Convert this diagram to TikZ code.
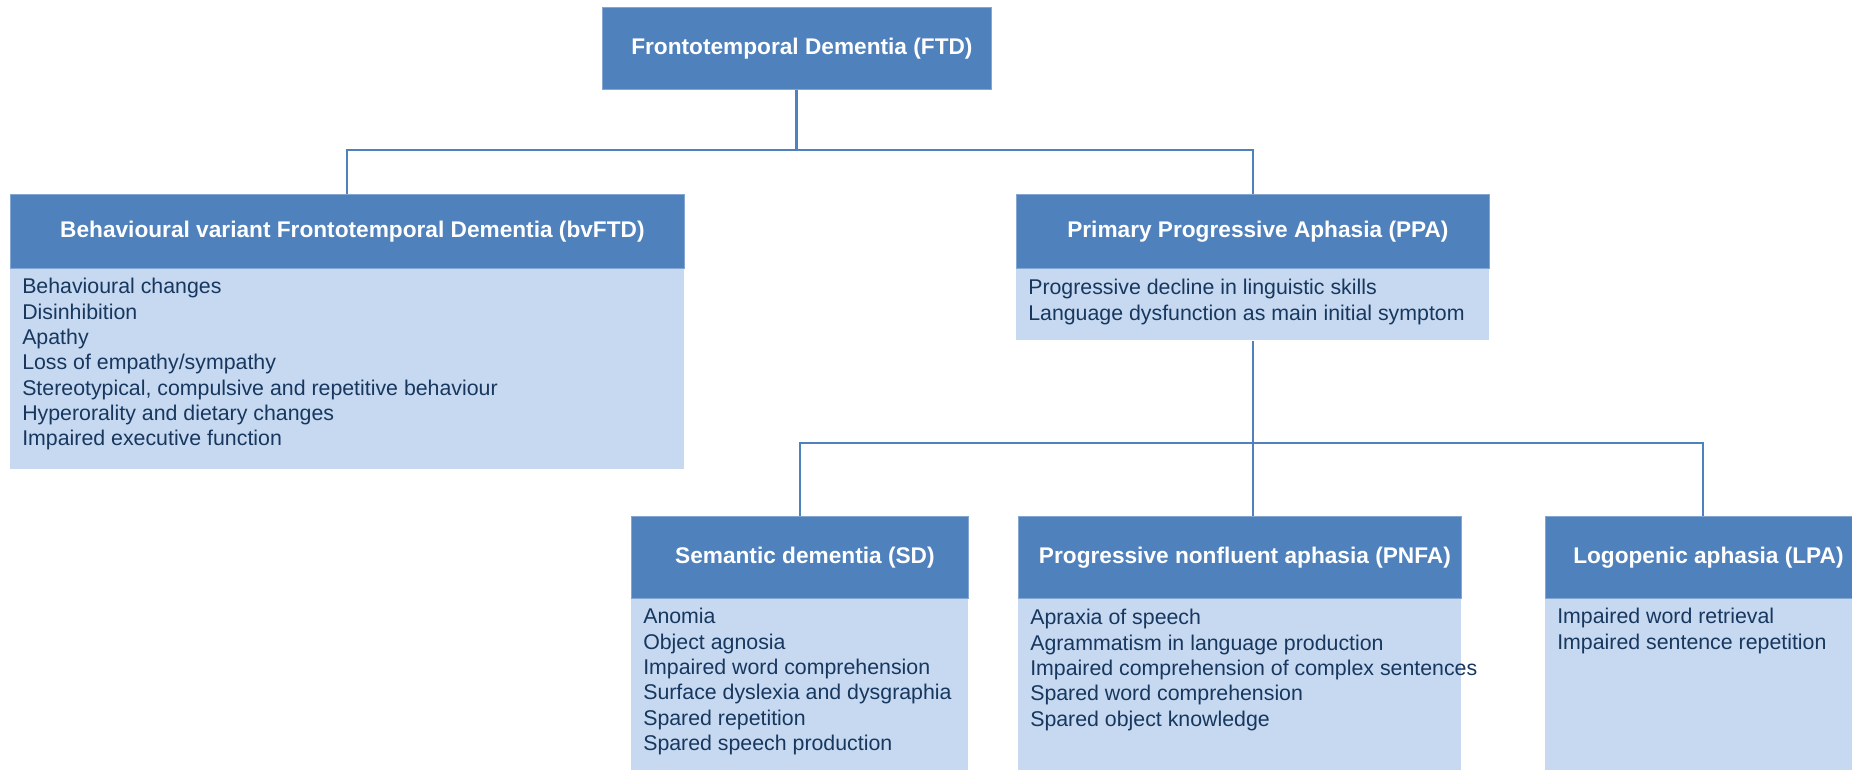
\documentclass[tikz,border=0pt]{standalone}
\usepackage{fontspec}
\setmainfont{Liberation Sans}
\usetikzlibrary{calc}
\definecolor{hdr}{HTML}{4F81BD}
\definecolor{bdy}{HTML}{C6D9F1}
\definecolor{txt}{HTML}{17375E}
\newcommand{\pxl}{0.75pt}
\begin{document}
\begin{tikzpicture}[x=0.75pt,y=-0.75pt,
 head/.style={fill=hdr, draw=hdr!70!white, line width=0.6pt, text=white, font=\fontsize{17}{20}\selectfont\bfseries, inner sep=0pt, anchor=north west},
 bodybox/.style={fill=bdy, inner sep=0pt, anchor=north west},
 bodytext/.style={text=txt, font=\fontsize{16}{19}\selectfont, align=left, inner sep=0pt, anchor=north west},
 link/.style={draw=hdr, line width=1.5pt},
 mainlink/.style={draw=hdr, line width=2.25pt}]
\useasboundingbox (0,0) rectangle (1852,769);
\clip (0,0) rectangle (1852,769);
% top
\node[head, minimum width=389*\pxl, minimum height=82*\pxl] (ftd) at (602,7) {\hspace*{7.5pt}Frontotemporal Dementia (FTD)};
% bvFTD
\node[bodybox, minimum width=674*\pxl, minimum height=200*\pxl] (bvb) at (10,269) {};
\node[head, minimum width=674*\pxl, minimum height=74*\pxl, anchor=south west] (bvh) at (bvb.north west) {\hspace*{7.5pt}Behavioural variant Frontotemporal Dementia (bvFTD)};
\node[bodytext] (bvt) at ($(bvb.north west)+(12,9)$) {Behavioural changes\\Disinhibition\\Apathy\\Loss of empathy/sympathy\\Stereotypical, compulsive and repetitive behaviour\\Hyperorality and dietary changes\\Impaired executive function};
% PPA
\node[bodybox, minimum width=473*\pxl, minimum height=71*\pxl] (ppab) at (1016,269) {};
\node[head, minimum width=473*\pxl, minimum height=74*\pxl, anchor=south west] (ppah) at (ppab.north west) {\hspace*{7.5pt}Primary Progressive Aphasia (PPA)};
\node[bodytext] (ppat) at ($(ppab.north west)+(12,10)$) {Progressive decline in linguistic skills\\Language dysfunction as main initial symptom};
% SD
\node[bodybox, minimum width=337*\pxl, minimum height=200*\pxl] (sdb) at (631,599) {};
\node[head, minimum width=337*\pxl, minimum height=82*\pxl, anchor=south west] (sdh) at (sdb.north west) {\hspace*{7.5pt}Semantic dementia (SD)};
\node[bodytext] (sdt) at ($(sdb.north west)+(12,9)$) {Anomia\\Object agnosia\\Impaired word comprehension\\Surface dyslexia and dysgraphia\\Spared repetition\\Spared speech production};
% PNFA
\node[bodybox, minimum width=443*\pxl, minimum height=200*\pxl] (pnfab) at (1018,599) {};
\node[head, minimum width=443*\pxl, minimum height=82*\pxl, anchor=south west] (pnfah) at (pnfab.north west) {\hspace*{7.5pt}Progressive nonfluent aphasia (PNFA)};
\node[bodytext] (pnfat) at ($(pnfab.north west)+(12,10)$) {Apraxia of speech\\Agrammatism in language production\\Impaired comprehension of complex sentences\\Spared word comprehension\\Spared object knowledge};
% LPA
\node[bodybox, minimum width=316*\pxl, minimum height=200*\pxl] (lpab) at (1545,599) {};
\node[head, minimum width=316*\pxl, minimum height=82*\pxl, anchor=south west] (lpah) at (lpab.north west) {\hspace*{7.5pt}Logopenic aphasia (LPA)};
\node[bodytext] (lpat) at ($(lpab.north west)+(12,9)$) {Impaired word retrieval\\Impaired sentence repetition};
% connectors
\coordinate (bus1) at (0,150);
\coordinate (bus2) at (0,443);
\draw[mainlink] (ftd.south) -- (ftd.south |- bus1);
\draw[link] (bvh.north) -- (bvh.north |- bus1) -- (ppah.north |- bus1) -- (ppah.north);
\draw[link] (ppab.south) -- (ppab.south |- pnfah.north);
\draw[link] (sdh.north) -- (sdh.north |- bus2) -- (lpah.north |- bus2) -- (lpah.north);
\end{tikzpicture}
\end{document}
